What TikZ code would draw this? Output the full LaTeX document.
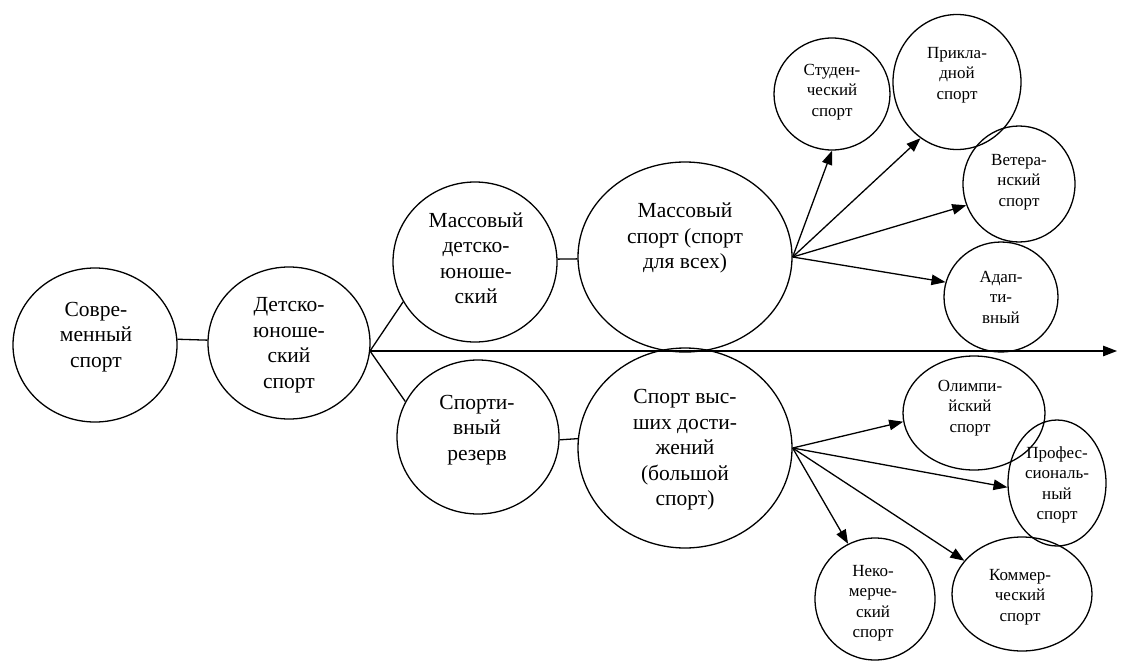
\documentclass[tikz,border=0pt]{standalone}
\usepackage{fontspec}
\setmainfont{Liberation Serif}
\newfontfamily\tnr{Liberation Serif}
\usetikzlibrary{shapes.geometric,arrows.meta}
\begin{document}
\begin{tikzpicture}[x=1pt,y=-1pt,
  oval/.style={ellipse, draw, line width=1.3pt, inner sep=0pt},
  big/.style={align=center, font=\tnr\fontsize{21.5}{25.5}\selectfont, inner sep=0pt},
  small/.style={align=center, font=\tnr\fontsize{17}{20.5}\selectfont, inner sep=0pt},
  link/.style={line width=1.3pt},
  arr/.style={line width=1.3pt, -{Triangle[length=14pt,width=10.5pt]}}]
\useasboundingbox[fill=white] (0,0) rectangle (1135,664);

% ellipses
\node[oval, minimum width=164pt, minimum height=154pt] (A) at (95,345) {};
\node[oval, minimum width=162pt, minimum height=152pt] (B) at (289,343) {};
\node[oval, minimum width=164pt, minimum height=160pt] (C) at (475,262) {};
\node[oval, minimum width=162pt, minimum height=154pt] (D) at (478,437) {};
\node[oval, minimum width=214pt, minimum height=190pt] (E) at (685,257) {};
\node[oval, minimum width=214pt, minimum height=200pt] (F) at (685,448) {};
\node[oval, minimum width=116pt, minimum height=112pt] (S1) at (832,94) {};
\node[oval, minimum width=128pt, minimum height=135pt] (S2) at (957,82) {};
\node[oval, minimum width=112pt, minimum height=116pt] (S3) at (1019,184) {};
\node[oval, minimum width=114pt, minimum height=110pt] (S4) at (1001,297) {};
\node[oval, minimum width=142pt, minimum height=114pt] (L1) at (974,413) {};
\node[oval, minimum width=98pt, minimum height=126pt] (L2) at (1057,483) {};
\node[oval, minimum width=120pt, minimum height=122pt] (L3) at (875,599) {};
\node[oval, minimum width=140pt, minimum height=114pt] (L4) at (1022,594) {};

% texts
\node[big] (At) at (96,337) {Совре-\\менный\\спорт};
\node[big] (Bt) at (289,345) {Детско-\\юноше-\\ский\\спорт};
\node[big] (Ct) at (476,258) {Массовый\\детско-\\юноше-\\ский};
\node[big] (Dt) at (477,430) {Спорти-\\вный\\резерв};
\node[big] (Et) at (685,238) {Массовый\\спорт (спорт\\для всех)};
\node[big] (Ft) at (685,450) {Спорт выс-\\ших дости-\\жений\\(большой\\спорт)};
\node[small] (S1t) at (832,92) {Студен-\\ческий\\спорт};
\node[small] (S2t) at (957,75) {Прикла-\\дной\\спорт};
\node[small] (S3t) at (1019,182) {Ветера-\\нский\\спорт};
\node[small] (S4t) at (1001,297) {Адап-\\ти-\\вный};
\node[small] (L1t) at (970,408) {Олимпи-\\йский\\спорт};
\node[small] (L2t) at (1057,485) {Профес-\\сиональ-\\ный\\спорт};
\node[small] (L3t) at (873,603) {Неко-\\мерче-\\ский\\спорт};
\node[small] (L4t) at (1020,597) {Коммер-\\ческий\\спорт};

% connectors
\coordinate (br) at (370,351);
\coordinate (end) at (1117,351);
\draw[link] (A.4) -- (B.178);
\draw[link] (br) -- (C.209);
\draw[link] (br) -- (D.154);
\draw[link] (C.2) -- (E.181);
\draw[link] (D.358) -- (F.175);
\draw[arr] (br) -- (end);

\draw[arr] (E.east) -- (S1.south);
\draw[arr] (E.east) -- (S2.237);
\draw[arr] (E.east) -- (S3.202);
\draw[arr] (E.east) -- (S4.165);

\draw[arr] (F.east) -- (L1.187);
\draw[arr] (F.east) -- (L2.185);
\draw[arr] (F.east) -- (L3.116);
\draw[arr] (F.east) -- (L4.150);
\end{tikzpicture}
\end{document}
